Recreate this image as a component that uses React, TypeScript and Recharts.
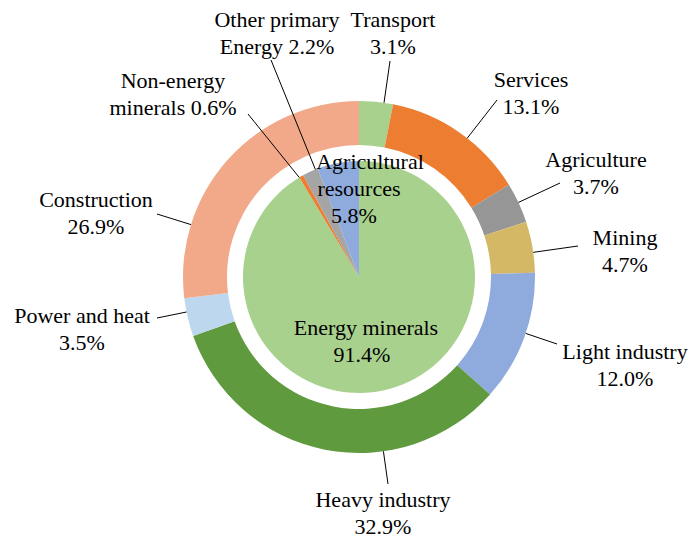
import { PieChart, Pie, Cell } from 'recharts';

// ring: end-use sectors, clockwise from 12 o'clock
const sectorNames = ['Transport', 'Services', 'Agriculture', 'Mining', 'Light industry', 'Heavy industry', 'Power and heat', 'Construction'];
const sectorShares = [3.1, 13.1, 3.7, 4.7, 12.0, 32.9, 3.5, 26.9];
const sectorColors = ['#A9D18E', '#ED7D31', '#969696', '#D5B866', '#8FAADC', '#609A3E', '#BDD7EE', '#F2A98A'];

// centre pie: resource types
const resourceNames = ['Energy minerals', 'Non-energy minerals', 'Other primary Energy', 'Agricultural resources'];
const resourceShares = [91.4, 0.6, 2.2, 5.8];
const resourceColors = ['#A9D18E', '#ED7D31', '#A5A5A5', '#8FAADC'];
// where each name wraps
const resourceWraps = [['Energy minerals', ''], ['Non-energy', 'minerals '], ['Other primary', 'Energy '], ['Agricultural', 'resources', '']];

// label placement relative to pie centre: text (tx, ty), leader end (lx, ly), per-line x shift
type Place = { tx: number; ty: number; lx?: number; ly?: number; shift?: number[] };
const sectorPlaces: Place[] = [
    { tx: 34, ty: -257, lx: 31, ly: -216 },
    { tx: 172, ty: -197, lx: 138, ly: -177 },
    { tx: 237, ty: -117, lx: 201, ly: -94 },
    { tx: 266, ty: -39, lx: 219, ly: -31 },
    { tx: 266, ty: 75, lx: 198, ly: 67 },
    { tx: 24, ty: 223, lx: 29, ly: 207 },
    { tx: -277, ty: 39, lx: -202, ly: 41 },
    { tx: -263, ty: -77, lx: -202, ly: -63 },
];
const resourcePlaces: Place[] = [
    { tx: 5, ty: 51, shift: [2, -2] },
    { tx: -186, ty: -196, lx: -111, ly: -163 },
    { tx: -82, ty: -257, lx: -88, ly: -217 },
    { tx: 0, ty: -115, shift: [11, 0, -5] },
];

const CX = 359;
const CY = 277;
const LINE_H = 27;
const RAD = Math.PI / 180;
const FONT = '"Liberation Serif", Tinos, "Times New Roman", "DejaVu Serif", serif';

const pct = (v: number) => `${v.toFixed(1)}%`;

const sectorLines = sectorNames.map((n, i) => [n, pct(sectorShares[i])]);
const resourceLines = resourceWraps.map((w, i) => {
    const lines = w.slice();
    lines[lines.length - 1] = lines[lines.length - 1] + pct(resourceShares[i]);
    return lines;
});

const sectorData = sectorNames.map((name, i) => ({ name, value: sectorShares[i] }));
const resourceData = resourceNames.map((name, i) => ({ name, value: resourceShares[i] }));

// leader starts at the point of the sector's arc closest to the label
const arcAngle = (target: number, a: number, b: number) => {
    const lo = Math.min(a, b);
    const hi = Math.max(a, b);
    let t = target;
    while (t < lo) t += 360;
    while (t >= lo + 360) t -= 360;
    if (t <= hi) return t;
    return t - hi < lo + 360 - t ? hi : lo;
};

const makeLabel = (places: Place[], texts: string[][]) => (props: any) => {
    const { cx, cy, outerRadius, startAngle, endAngle, index } = props;
    const p = places[index];
    const lines = texts[index];
    let leader = null;
    if (p.lx !== undefined && p.ly !== undefined) {
        const target = Math.atan2(-p.ly, p.lx) / RAD;
        const ang = arcAngle(target, startAngle, endAngle);
        const sx = cx + outerRadius * Math.cos(-ang * RAD);
        const sy = cy + outerRadius * Math.sin(-ang * RAD);
        leader = <line x1={sx} y1={sy} x2={cx + p.lx} y2={cy + p.ly} stroke="#000" strokeWidth={1} />;
    }
    return (
        <g key={`lbl-${index}`}>
            {leader}
            <text textAnchor="middle" fill="#000" fontFamily={FONT} fontSize={22} style={{ fontFamily: FONT }}>
                {lines.map((t, k) => (
                    <tspan key={k} x={cx + p.tx + (p.shift ? p.shift[k] : 0)} y={cy + p.ty + k * LINE_H} dy="0.34em">
                        {t}
                    </tspan>
                ))}
            </text>
        </g>
    );
};

export default function App() {
    return (
        <div style={{ position: 'absolute', left: 0, top: 0, width: 692, height: 539, background: '#fff', fontFamily: FONT }}>
            <PieChart width={692} height={539} margin={{ top: 0, right: 0, bottom: 0, left: 0 }}>
                <Pie
                    data={sectorData}
                    dataKey="value"
                    nameKey="name"
                    cx={CX}
                    cy={CY}
                    innerRadius={132}
                    outerRadius={176}
                    startAngle={90}
                    endAngle={-270}
                    stroke="none"
                    labelLine={false}
                    label={makeLabel(sectorPlaces, sectorLines)}
                    isAnimationActive={false}
                >
                    {sectorData.map((d, i) => (
                        <Cell key={d.name} fill={sectorColors[i]} />
                    ))}
                </Pie>
                <Pie
                    data={resourceData}
                    dataKey="value"
                    nameKey="name"
                    cx={CX}
                    cy={CY}
                    innerRadius={0}
                    outerRadius={116}
                    startAngle={90}
                    endAngle={-270}
                    stroke="none"
                    labelLine={false}
                    label={makeLabel(resourcePlaces, resourceLines)}
                    isAnimationActive={false}
                >
                    {resourceData.map((d, i) => (
                        <Cell key={d.name} fill={resourceColors[i]} />
                    ))}
                </Pie>
            </PieChart>
        </div>
    );
}
